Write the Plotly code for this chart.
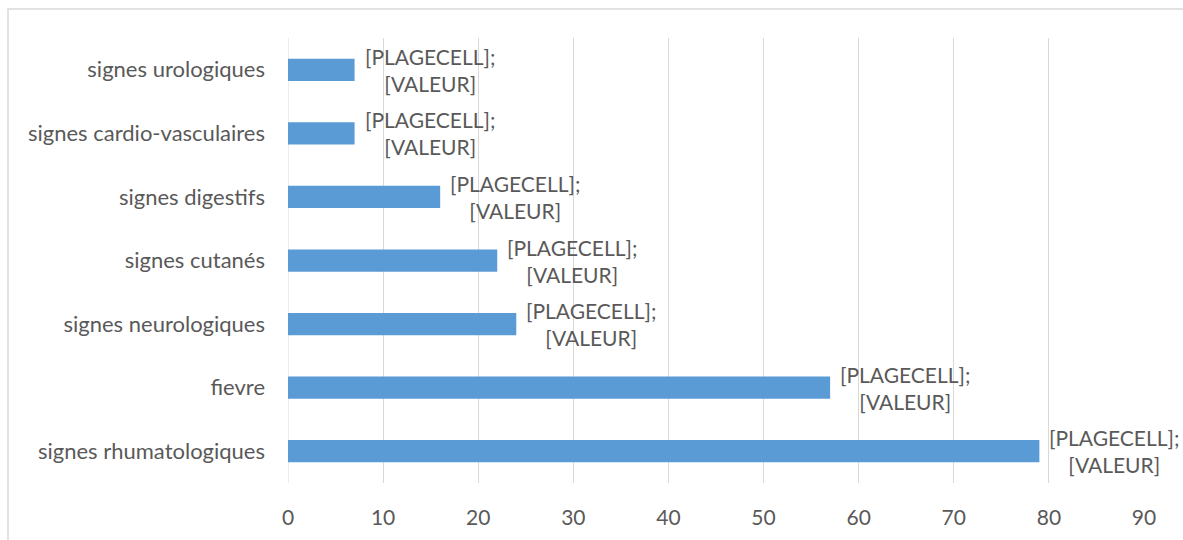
import plotly.graph_objects as go

categories = ["signes rhumatologiques", "fievre", "signes neurologiques", "signes cutanés",
              "signes digestifs", "signes cardio-vasculaires", "signes urologiques"]
values = [79, 57, 24, 22, 16, 7, 7]
label_text = "[PLAGECELL];<br>[VALEUR]"
tick_vals = [0, 10, 20, 30, 40, 50, 60, 70, 80, 90]

FONT = "Lato"
GREY = "#595959"

fig = go.Figure(go.Bar(
    y=categories, x=values, orientation="h",
    marker=dict(color="#5B9BD5", line=dict(width=0)),
    width=0.35,
    cliponaxis=False,
))

for c, v in zip(categories, values):
    fig.add_annotation(x=v, y=c, xref="x", yref="y", text=label_text, showarrow=False,
                       xanchor="left", yanchor="middle", xshift=8, align="center",
                       font=dict(family=FONT, size=21, color=GREY))

fig.update_layout(
    width=1183, height=540,
    margin=dict(l=288, r=39, t=38, b=57),
    plot_bgcolor="white", paper_bgcolor="white",
    showlegend=False,
    font=dict(family=FONT, size=21, color=GREY),
    xaxis=dict(range=[0, 90], tickvals=tick_vals, showgrid=True, gridcolor="#d9d9d9",
               gridwidth=1, zeroline=False, showline=False, ticks="",
               ticklabelstandoff=20,
               tickfont=dict(family=FONT, size=21, color=GREY)),
    yaxis=dict(categoryorder="array", categoryarray=categories, showgrid=False,
               zeroline=False, showline=False, ticks="", ticklabelstandoff=22,
               tickfont=dict(family=FONT, size=22, color=GREY)),
)

# axis baseline at 0 (gridline)
fig.add_shape(type="line", xref="x", yref="paper", x0=0, x1=0, y0=0, y1=1,
              line=dict(color="#d9d9d9", width=1), layer="below")
# chart area border (left and top edges visible)
fig.add_shape(type="rect", xref="paper", yref="paper",
              x0=(8 - 288) / 856, x1=1.5, y0=-0.5, y1=1 + (38 - 9) / 445,
              line=dict(color="#d9d9d9", width=1.5), fillcolor="rgba(0,0,0,0)")

fig.write_html("out.html", config={"displayModeBar": False},
               post_script="document.body.style.margin='0';document.body.style.overflow='hidden';")
